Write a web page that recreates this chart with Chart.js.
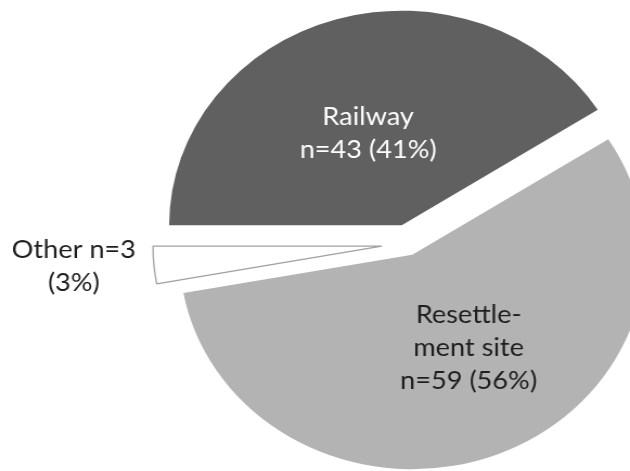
<!DOCTYPE html>
<html>
<head>
<meta charset="utf-8">
<script src="https://cdn.jsdelivr.net/npm/chart.js@4.4.1/dist/chart.umd.min.js"></script>
<style>
  html, body { margin: 0; padding: 0; background: #ffffff; overflow: hidden; }
  #wrap { position: absolute; left: 0; top: 0; width: 581px; height: 471px;
          transform: scaleX(1.0843); transform-origin: 0 0; }
</style>
</head>
<body>
<div id="wrap"><canvas id="c"></canvas></div>
<script>
// ---- data ----
const categories = ["Railway", "Resettlement site", "Other"];
const counts = [43, 59, 3];
const labelLines = [
  ["Railway", "n=43 (41%)"],
  ["Resettle-", "ment site", "n=59 (56%)"],
  ["Other n=3", "(3%)"]
];

// ---- styles ----
const sliceColors = ["#606060", "#b3b3b3", "#ffffff"];
const sliceBorders = ["#606060", "#b3b3b3", "#a0a0a0"];
const sliceBorderW = [0, 0, 1.3];
const explodePx = [19.6, 11.5, 24];
const sliceRadius = [214.5, 214.5, 211];
const labelOffsets = [[-31, -92], [52, 93], [-284, 20]];
const labelColors = ["#ffffff", "#1e1e1e", "#1e1e1e"];
const labelFont = "25px Lato";
const lineGap = 33;

const explodePlugin = {
  id: 'explode',
  afterDatasetUpdate(chart, args) {
    args.meta.data.forEach((arc, i) => {
      const mid = (arc.startAngle + arc.endAngle) / 2;
      arc.x += Math.cos(mid) * explodePx[i];
      arc.y += Math.sin(mid) * explodePx[i];
      arc.outerRadius = sliceRadius[i];
    });
  }
};

const labelPlugin = {
  id: 'sliceLabels',
  afterDatasetsDraw(chart) {
    const ctx = chart.ctx;
    const arcs = chart.getDatasetMeta(0).data;
    ctx.save();
    ctx.font = labelFont;
    ctx.textAlign = 'center';
    ctx.textBaseline = 'middle';
    arcs.forEach((arc, i) => {
      const lines = labelLines[i];
      const cx = arc.x + labelOffsets[i][0];
      const cy = arc.y + labelOffsets[i][1];
      const y0 = cy - (lines.length - 1) * lineGap / 2;
      ctx.fillStyle = labelColors[i];
      lines.forEach((t, k) => ctx.fillText(t, cx, y0 + k * lineGap));
    });
    ctx.restore();
  }
};

new Chart(document.getElementById('c'), {
  type: 'pie',
  data: {
    labels: categories,
    datasets: [{
      data: counts,
      backgroundColor: sliceColors,
      borderColor: sliceBorders,
      borderWidth: sliceBorderW,
      clip: false
    }]
  },
  options: {
    responsive: true,
    maintainAspectRatio: false,
    animation: false,
    rotation: 270,
    radius: 214.5,
    layout: { padding: { left: 171, right: 0, top: 17, bottom: 0 } },
    plugins: {
      legend: { display: false },
      tooltip: { enabled: false }
    }
  },
  plugins: [explodePlugin, labelPlugin]
});
</script>
</body>
</html>
